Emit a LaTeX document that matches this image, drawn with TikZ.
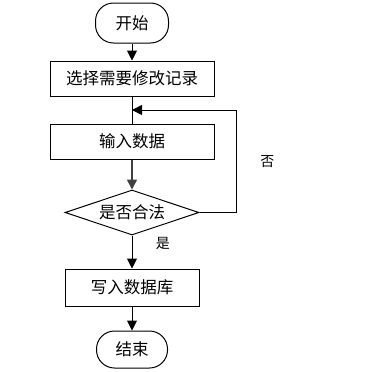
\documentclass[tikz,border=0pt]{standalone}
\usepackage{fontspec}
\newfontfamily\cjkfont{Noto Sans CJK SC}
\usetikzlibrary{arrows.meta,positioning,shapes.geometric,calc}
\tikzset{
  termbox/.style={rectangle,rounded corners=18pt,draw=black,line width=1pt,
    fill=white,font=\cjkfont\fontsize{16.5}{19}\selectfont,
    minimum width=73pt,minimum height=40pt,inner sep=0pt},
  procbox/.style={rectangle,draw=black,line width=1pt,fill=white,
    font=\cjkfont\fontsize{16.5}{19}\selectfont,
    minimum width=164pt,minimum height=35pt,inner sep=0pt},
  testbox/.style={diamond,draw=black,line width=1pt,fill=white,aspect=3,
    font=\cjkfont\fontsize{16.5}{19}\selectfont,
    minimum width=134pt,minimum height=45pt,inner sep=0pt},
  flowarr/.style={-{Triangle[length=10pt,width=10pt]},line width=1pt,color=black},
  flowlabel/.style={font=\cjkfont\fontsize{14}{16}\selectfont,color=black},
}
\begin{document}
\begin{tikzpicture}[x=1pt,y=-1pt]
  \useasboundingbox (0,0) rectangle (364,372);
  \node[termbox] (start) at (132,23) {开始};
  \node[procbox,below=17pt of start] (sel) {选择需要修改记录};
  \node[procbox,below=27pt of sel] (inp) {输入数据};
  \node[testbox,below=30pt of inp] (chk) {是否合法};
  \node[procbox,minimum width=134pt,minimum height=37pt,below=33pt of chk] (save) {写入数据库};
  \node[termbox,minimum width=71pt,minimum height=37pt,below=24pt of save] (stop) {结束};
  \coordinate (join) at ($(sel.south)!0.5!(inp.north)$);

  \draw[flowarr] (start) -- (sel);
  \draw[line width=1pt] (sel) -- (inp);
  \draw[flowarr,color=black!75,line width=1.6pt] (inp) -- (chk);
  \draw[flowarr] (chk) -- (save) node[pos=0.25,right=20pt,flowlabel]{是};
  \draw[flowarr] (save) -- (stop);
  \draw[flowarr] (chk.east) -- ++(37,0) |- node[pos=0.25,right=20pt,flowlabel]{否} (join);
\end{tikzpicture}
\end{document}
